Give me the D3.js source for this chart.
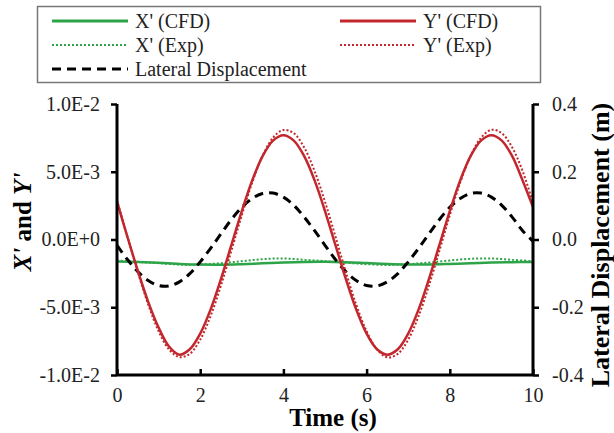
<!DOCTYPE html>
<html>
<head>
<meta charset="utf-8">
<script src="https://cdn.jsdelivr.net/npm/d3@7"></script>
<style>
	body { margin: 0; background: #fff; }
	svg { display: block; }
	svg text { font-family: "Times New Roman", "Liberation Serif", Tinos, "DejaVu Serif", serif; }
</style>
</head>
<body>
<svg id="chart" width="614" height="433"></svg>
<script>
// time samples (s)
const timeFine = d3.range(0, 10.001, 0.25);
const timeCoarse = d3.range(0, 10.001, 0.5);

// Y' (CFD) and Y' (Exp), in units of 1e-3
const yCfd = [2.8, 0.2, -2.3, -4.6, -6.5, -7.9, -8.5, -8.1, -6.95, -5.16, -2.9, -0.4, 2.1, 4.36, 6.15, 7.3, 7.7, 7.3, 6.15, 4.36,
	2.1, -0.4, -2.9, -5.16, -6.95, -8.1, -8.5, -8.1, -6.95, -5.16, -2.9, -0.4, 2.1, 4.36, 6.15, 7.3, 7.7, 7.3, 6.15, 4.36, 2.4];
const yExp = [2.9, 0.23, -2.39, -4.8, -6.77, -8.11, -8.68, -8.44, -7.39, -5.65, -3.39, -0.83, 1.79, 4.2, 6.17, 7.51, 8.08, 7.84, 6.79, 5.05,
	2.79, 0.23, -2.39, -4.8, -6.77, -8.11, -8.7, -8.44, -7.39, -5.65, -3.39, -0.83, 1.79, 4.2, 6.17, 7.51, 8.1, 7.84, 6.79, 5.05, 2.7];

// X' (CFD) and X' (Exp), in units of 1e-3
const xCfd = [-1.62, -1.66, -1.72, -1.8, -1.85, -1.86, -1.82, -1.76, -1.7, -1.66, -1.65, -1.68, -1.74, -1.8, -1.84, -1.84, -1.8, -1.75, -1.7, -1.67, -1.66];
const xExp = [-1.55, -1.65, -1.75, -1.85, -1.85, -1.75, -1.6, -1.45, -1.4, -1.5, -1.6, -1.72, -1.82, -1.88, -1.82, -1.7, -1.55, -1.42, -1.4, -1.5, -1.6];

// lateral displacement (m)
const lateral = [-0.017, -0.059, -0.095, -0.121, -0.136, -0.137, -0.125, -0.101, -0.066, -0.026, 0.017, 0.059, 0.095, 0.121, 0.136, 0.137, 0.125, 0.101, 0.066, 0.026,
	-0.017, -0.059, -0.095, -0.121, -0.136, -0.137, -0.125, -0.101, -0.066, -0.026, 0.017, 0.059, 0.095, 0.121, 0.136, 0.137, 0.125, 0.101, 0.066, 0.026, -0.005];

const timeTicks = [0, 2, 4, 6, 8, 10];
const leftTicks = [-1e-2, -5e-3, 0, 5e-3, 1e-2];
const rightTicks = [-0.4, -0.2, 0, 0.2, 0.4];

const red = "#c1272d";
const green = "#2ca447";

const svg = d3.select("#chart");
const plot = {left: 117, right: 533, top: 104, bottom: 375};

const x = d3.scaleLinear().domain([0, 10]).range([plot.left, plot.right]);
const yLeft = d3.scaleLinear().domain([-1e-2, 1e-2]).range([plot.bottom, plot.top]);
const yRight = d3.scaleLinear().domain([-0.4, 0.4]).range([plot.bottom, plot.top]);

const sci = v => v === 0 ? "0.0E+0" : d3.format(".1e")(v).replace("e", "E").replace("−", "-");

// series
function drawLine(times, values, scale, factor, style) {
	const line = d3.line()
		.x((d, i) => x(times[i]))
		.y(d => scale(d * factor))
		.curve(d3.curveCatmullRom);
	svg.append("path")
		.datum(values)
		.attr("fill", "none")
		.attr("stroke", style.color)
		.attr("stroke-width", style.width)
		.attr("stroke-dasharray", style.dash || null)
		.attr("d", line);
}

drawLine(timeCoarse, xExp, yLeft, 1e-3, {color: green, width: 2, dash: "2,2"});
drawLine(timeCoarse, xCfd, yLeft, 1e-3, {color: green, width: 2.5});
drawLine(timeFine, lateral, yRight, 1, {color: "#000", width: 3, dash: "9,6"});
drawLine(timeFine, yExp, yLeft, 1e-3, {color: red, width: 2, dash: "2,2"});
drawLine(timeFine, yCfd, yLeft, 1e-3, {color: red, width: 2.5});

// axes
const bottomAxis = svg.append("g")
	.attr("transform", `translate(0,${plot.bottom})`)
	.call(d3.axisBottom(x).tickValues(timeTicks).tickSize(-6).tickPadding(13).tickFormat(d3.format("d")));
const leftAxis = svg.append("g")
	.attr("transform", `translate(${plot.left},0)`)
	.call(d3.axisLeft(yLeft).tickValues(leftTicks).tickSize(6).tickPadding(11).tickFormat(sci));
const rightAxis = svg.append("g")
	.attr("transform", `translate(${plot.right},0)`)
	.call(d3.axisRight(yRight).tickValues(rightTicks).tickSize(6).tickPadding(13).tickFormat(d => d3.format(".1f")(d).replace("−", "-")));

[bottomAxis, leftAxis, rightAxis].forEach(g => {
	g.attr("font-family", null);
	g.select(".domain").attr("stroke", "#000").attr("stroke-width", 3);
	g.selectAll(".tick line").attr("stroke", "#000").attr("stroke-width", 2.5);
	g.selectAll(".tick text").attr("font-size", 20).attr("fill", "#222");
});
// d3 draws the outer ticks as part of the domain path; keep plain lines
bottomAxis.select(".domain").attr("d", `M${plot.left},0H${plot.right}`);
leftAxis.select(".domain").attr("d", `M0,${plot.top}V${plot.bottom}`);
rightAxis.select(".domain").attr("d", `M0,${plot.top}V${plot.bottom}`);

// axis titles
svg.append("text")
	.attr("x", (plot.left + plot.right) / 2 + 8).attr("y", 426)
	.attr("text-anchor", "middle").attr("font-size", 25).attr("font-weight", "bold")
	.text("Time (s)");

const leftTitle = svg.append("text")
	.attr("transform", `translate(31,222) rotate(-90)`)
	.attr("text-anchor", "middle").attr("font-size", 25).attr("font-weight", "bold");
leftTitle.append("tspan").attr("font-style", "italic").text("X'");
leftTitle.append("tspan").text(" and ");
leftTitle.append("tspan").attr("font-style", "italic").text("Y'");

svg.append("text")
	.attr("transform", `translate(609,245) rotate(-90)`)
	.attr("text-anchor", "middle").attr("font-size", 26).attr("font-weight", "bold")
	.text("Lateral Displacement (m)");

// legend
const legendItems = [
	{label: "X' (CFD)", color: green, width: 3, dash: null, col: 0, row: 0},
	{label: "Y' (CFD)", color: red, width: 3, dash: null, col: 1, row: 0},
	{label: "X' (Exp)", color: green, width: 2, dash: "2,2", col: 0, row: 1},
	{label: "Y' (Exp)", color: red, width: 2, dash: "2,2", col: 1, row: 1},
	{label: "Lateral Displacement", color: "#000", width: 3, dash: "9,6", col: 0, row: 2}
];

svg.append("rect")
	.attr("x", 37.5).attr("y", 6.5).attr("width", 503).attr("height", 76)
	.attr("fill", "#fff").attr("stroke", "#777").attr("stroke-width", 1.5);

const legend = svg.append("g").selectAll("g")
	.data(legendItems)
	.join("g")
	.attr("transform", d => `translate(${d.col ? 340 : 52},${21 + d.row * 24})`);
legend.append("line")
	.attr("x1", 0).attr("x2", 76)
	.attr("stroke", d => d.color)
	.attr("stroke-width", d => d.width)
	.attr("stroke-dasharray", d => d.dash);
legend.append("text")
	.attr("x", 83).attr("dy", "0.33em")
	.attr("font-size", 20).attr("fill", "#222")
	.text(d => d.label);
</script>
</body>
</html>
